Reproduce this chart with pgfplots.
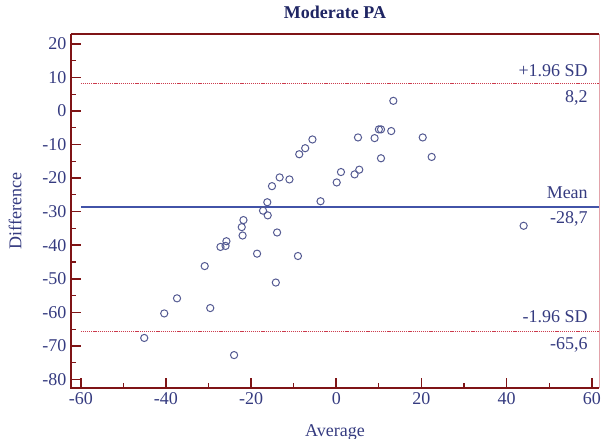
\documentclass[border=0pt]{standalone}
\usepackage{fontspec}
\setmainfont{Liberation Serif}
\usepackage{pgfplots}
\pgfplotsset{compat=1.18}
\usetikzlibrary{calc}

\definecolor{navy}{HTML}{353B80}
\definecolor{navyd}{HTML}{1F2563}
\definecolor{axred}{HTML}{7F1416}
\definecolor{edgepink}{HTML}{E3A3AB}
\definecolor{meanblue}{HTML}{4253A8}
\definecolor{sdred}{HTML}{CC3A4C}
\definecolor{ptcol}{HTML}{545A92}

\newcommand{\lblfont}{\fontsize{18}{21}\selectfont}

\begin{document}
\begin{tikzpicture}
\begin{axis}[
    name=ax,
    scale only axis,
    width=528pt, height=354pt,
    xmin=-62.3, xmax=61.7,
    ymin=-82.5, ymax=22.9,
    xtick={-60,-40,...,60},
    ytick={-80,-70,...,20},
    minor xtick={-50,-30,...,50},
    minor ytick={-75,-65,...,15},
    tick pos=left,
    tick align=inside,
    major tick length=10pt,
    minor tick length=5pt,
    every tick/.style={draw=axred, line width=1.6pt},
    every minor tick/.style={draw=axred, line width=1.1pt},
    axis line style={draw=none},
    clip=false,
    /pgf/number format/assume math mode=true,
    ticklabel style={font=\lblfont, text=navy},
    yticklabel style={xshift=-1pt},
    xticklabel style={yshift=-1pt},
    title={\bfseries Moderate PA},
    title style={at={(axis description cs:0.5,1.045)}, anchor=center, font=\lblfont, text=navyd},
    xlabel={Average},
    xlabel style={at={(axis description cs:0.5,-0.1356)}, anchor=base, font=\lblfont, text=navy},
    ylabel={Difference},
    ylabel style={at={(axis description cs:-0.106,0.5)}, anchor=center, rotate=0, font=\lblfont, text=navy},
]

% limits of agreement
\addplot[draw=meanblue, line width=2.2pt] coordinates {(-60,-28.7) (61.7,-28.7)};
\addplot[draw=sdred, line width=0.9pt, dash pattern=on 1.2pt off 0.9pt] coordinates {(-60,8.2) (61.7,8.2)};
\addplot[draw=sdred, line width=0.9pt, dash pattern=on 1.2pt off 0.9pt] coordinates {(-60,-65.6) (61.7,-65.6)};

% measurements
\addplot[only marks, mark=o, mark size=3.6pt, mark options={draw=ptcol, line width=1pt}] coordinates {
    (-45.1,-67.6) (-40.4,-60.3) (-37.4,-55.8) (-30.9,-46.2) (-29.6,-58.7)
    (-27.2,-40.5) (-25.8,-38.8) (-26.0,-40.2) (-24.0,-72.7) (-22.2,-34.6)
    (-21.8,-32.5) (-22.0,-37.1) (-18.6,-42.5) (-17.2,-29.7) (-16.1,-31.1)
    (-16.2,-27.2) (-13.9,-36.2) (-14.2,-51.1) (-9.0,-43.2) (-3.7,-26.9)
    (-5.6,-8.5) (-7.3,-11.1) (-8.7,-12.9) (-11.0,-20.4) (-13.3,-19.8)
    (-15.1,-22.4) (13.4,3.0) (10.0,-5.5) (10.5,-5.5) (12.9,-6.0)
    (9.0,-8.1) (5.1,-7.9) (20.3,-7.9) (22.4,-13.7) (10.5,-14.1)
    (1.1,-18.2) (0.1,-21.3) (5.4,-17.5) (4.3,-18.9) (44.0,-34.2)
};

% labels of the lines
\node[anchor=base east, inner sep=0pt, font=\lblfont, text=navy] at (axis cs:59.1,8.2) [yshift=6.5pt] {+1.96 SD};
\node[anchor=base east, inner sep=0pt, font=\lblfont, text=navy] at (axis cs:59.1,8.2) [yshift=-19.4pt] {8,2};
\node[anchor=base east, inner sep=0pt, font=\lblfont, text=navy] at (axis cs:59.1,-28.7) [yshift=8.4pt] {Mean};
\node[anchor=base east, inner sep=0pt, font=\lblfont, text=navy] at (axis cs:59.1,-28.7) [yshift=-16pt] {-28,7};
\node[anchor=base east, inner sep=0pt, font=\lblfont, text=navy] at (axis cs:59.1,-65.6) [yshift=8.3pt] {-1.96 SD};
\node[anchor=base east, inner sep=0pt, font=\lblfont, text=navy] at (axis cs:59.1,-65.6) [yshift=-18.3pt] {-65,6};

% frame
\draw[edgepink, line width=1pt] (rel axis cs:1,0) -- (rel axis cs:1,1);
\draw[axred, line width=2pt] (rel axis cs:0,1) -- (rel axis cs:1,1);
\draw[axred, line width=2.6pt] (rel axis cs:0,1) -- (rel axis cs:0,0) -- (rel axis cs:1,0);
\end{axis}
\pgfresetboundingbox
\path[use as bounding box] ($(ax.south west)+(-71pt,-51pt)$) rectangle ($(ax.north east)+(2pt,34pt)$);
\end{tikzpicture}
\end{document}
